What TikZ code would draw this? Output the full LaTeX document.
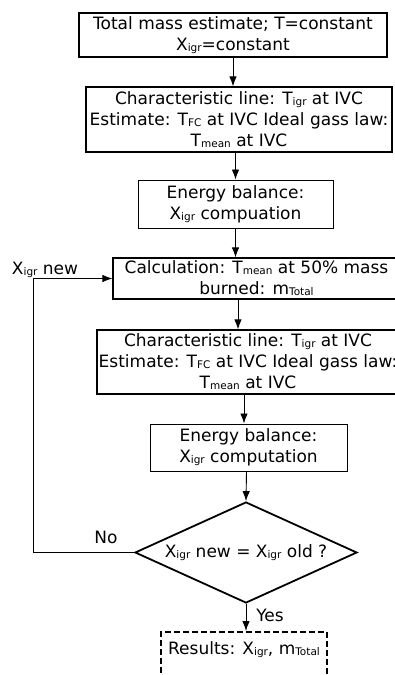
\documentclass[tikz,border=0pt]{standalone}
\usepackage{fontspec}
\setmainfont{DejaVu Sans}
\usetikzlibrary{shapes.geometric,arrows.meta}
\newcommand{\sbs}[1]{\raisebox{-0.1ex}{\fontsize{10.5}{10.5}\selectfont #1}}
\begin{document}
\begin{tikzpicture}[x=1pt,y=-1pt,font=\fontsize{17}{21}\selectfont,
  box/.style={draw,line width=1.3pt,align=center,inner sep=1pt},
  arr/.style={-{Latex[length=10pt,width=7.5pt]},line width=0.9pt},
  lbl/.style={inner sep=0pt}]
\useasboundingbox (0,0) rectangle (395,675);
\node[box,minimum width=308pt,minimum height=44pt] (b1) at (233,35)
  {Total mass estimate; T=constant\\X\sbs{igr}=constant};
\node[box,minimum width=306pt,minimum height=65pt] (b2) at (239,119.5)
  {Characteristic line: T\sbs{igr} at IVC\\Estimate: T\sbs{FC} at IVC Ideal gass law:\\T\sbs{mean} at IVC};
\node[box,line width=1pt,minimum width=195pt,minimum height=48pt] (b3) at (235.5,204)
  {Energy balance:\\X\sbs{igr} compuation};
\node[box,minimum width=287pt,minimum height=41pt] (b4) at (256.5,278.5)
  {Calculation: T\sbs{mean} at 50\% mass\\burned: m\sbs{Total}};
\node[box,minimum width=302pt,minimum height=64pt] (b5) at (248,362)
  {Characteristic line: T\sbs{igr} at IVC\\Estimate: T\sbs{FC} at IVC Ideal gass law:\\T\sbs{mean} at IVC};
\node[box,line width=1pt,minimum width=197pt,minimum height=47pt] (b6) at (248.5,447.5)
  {Energy balance:\\X\sbs{igr} computation};
\node[draw,diamond,aspect=2.2,line width=1.8pt,minimum width=222pt,minimum height=101pt,inner sep=0pt] (dia) at (246,552.5)
  {X\sbs{igr} new = X\sbs{igr} old ?};
\node[draw,line width=1.6pt,dash pattern=on 6pt off 3pt,minimum width=166pt,text height=12pt,text depth=22pt,inner ysep=11pt,anchor=north] (res) at (244,631)
  {Results: X\sbs{igr}, m\sbs{Total}};
\node[lbl] (lnew) at (45,270) {X\sbs{igr} new};
\node[lbl] (lno) at (106,537) {No};
\node[lbl] (lyes) at (270,615) {Yes};
\coordinate (lx) at (33,0);
\draw[arr] (b1.south) -- (b1.south |- b2.north);
\draw[arr] (b3.north |- b2.south) -- (b3.north);
\draw[arr] (b3.south) -- (b3.south |- b4.north);
\draw[arr] ([xshift=-18.5pt]b4.south) -- ([xshift=-18.5pt]b4.south |- b5.north);
\draw[arr] ([xshift=-4pt]b5.south) -- ([xshift=-4pt]b5.south |- b6.north);
\draw[arr] ([xshift=-2pt]b6.south) -- (dia.north);
\draw[arr] (dia.south) -- (dia.south |- res.north);
\draw[arr] (dia.west) -- (lx |- dia.west) |- (b4.west);
\end{tikzpicture}
\end{document}
